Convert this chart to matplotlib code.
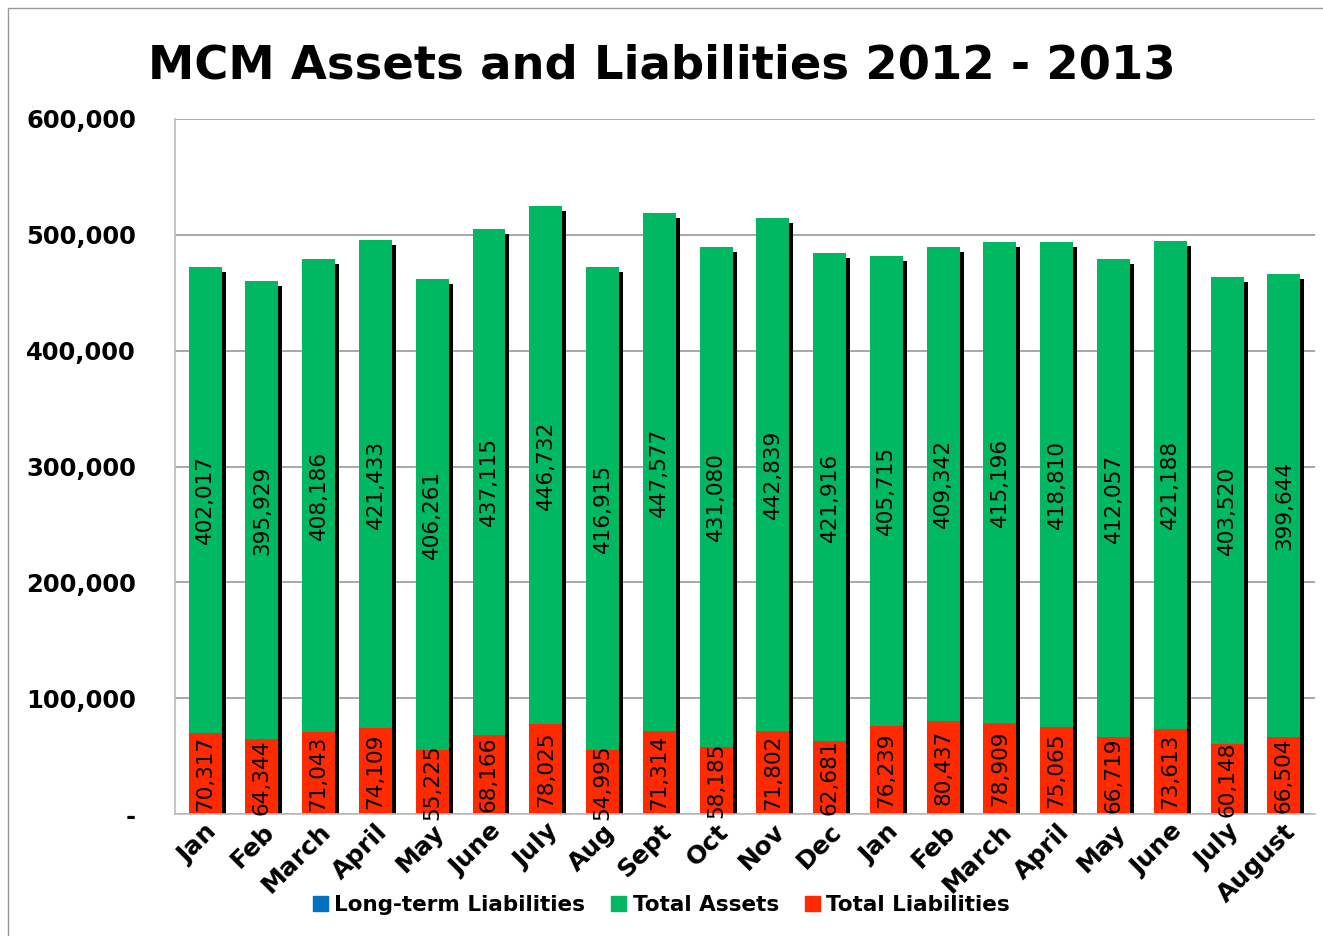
import matplotlib
matplotlib.use("Agg")
import matplotlib.pyplot as plt
import numpy as np
from matplotlib.patches import Patch, Rectangle
from matplotlib.ticker import FuncFormatter

months = ["Jan", "Feb", "March", "April", "May", "June", "July", "Aug", "Sept",
          "Oct", "Nov", "Dec", "Jan", "Feb", "March", "April", "May", "June",
          "July", "August"]
long_term = [0] * 20
liabilities = [70317, 64344, 71043, 74109, 55225, 68166, 78025, 54995, 71314,
               58185, 71802, 62681, 76239, 80437, 78909, 75065, 66719, 73613,
               60148, 66504]
assets = [402017, 395929, 408186, 421433, 406261, 437115, 446732, 416915,
          447577, 431080, 442839, 421916, 405715, 409342, 415196, 418810,
          412057, 421188, 403520, 399644]

GREEN = "#00B762"
RED = "#FF2A00"
BLUE = "#0070C0"

fig = plt.figure(figsize=(13.23, 9.36), dpi=100)
ax = fig.add_axes([0.1323, 0.1303, 0.8617, 0.7426])

x = np.arange(len(months))
w = 0.58
liab = np.array(liabilities)
ass = np.array(assets)
tot = liab + ass + np.array(long_term)

# shadow
ax.bar(x + 0.07, tot - 4300, w, color="black", zorder=1)
ax.bar(x, long_term, w, color=BLUE, zorder=2)
ax.bar(x, liab, w, bottom=long_term, color=RED, zorder=2)
ax.bar(x, ass, w, bottom=liab, color=GREEN, zorder=2)

for i in range(len(x)):
    ax.text(x[i], liab[i] / 2, f"{liab[i]:,}", rotation=90, ha="center",
            va="center", fontsize=15.5, zorder=3)
    ax.text(x[i], liab[i] + ass[i] / 2, f"{ass[i]:,}", rotation=90,
            ha="center", va="center", fontsize=15.5, zorder=3)

ax.set_ylim(0, 600000)
ax.set_xlim(-0.5 - 0.03, len(x) - 0.5 + 0.05)
ax.set_yticks(np.arange(0, 600001, 100000))
ax.yaxis.set_major_formatter(FuncFormatter(lambda v, p: "-" if v == 0 else f"{int(v):,}"))
ax.grid(axis="y", color="#999999", linewidth=1.2, zorder=0)
ax.set_axisbelow(True)
for s in ["top", "right"]:
    ax.spines[s].set_visible(False)
ax.spines["left"].set_color("#bbbbbb")
ax.spines["bottom"].set_color("#bbbbbb")
ax.spines["left"].set_linewidth(1.2)
ax.spines["bottom"].set_linewidth(1.2)
ax.tick_params(axis="y", length=0, pad=28, labelsize=17.5)
ax.tick_params(axis="x", length=0, pad=4, labelsize=18)
for lab in ax.get_yticklabels():
    lab.set_fontweight("heavy")

ax.set_xticks(x)
ax.set_xticklabels(months, rotation=45, ha="right", rotation_mode="anchor",
                   fontweight="heavy")

fig.text(0.5, 0.93, "MCM Assets and Liabilities 2012 - 2013", ha="center",
         va="center", fontsize=33.5, fontweight="heavy")

handles = [Patch(color=BLUE, label="Long-term Liabilities"),
           Patch(color=GREEN, label="Total Assets"),
           Patch(color=RED, label="Total Liabilities")]
leg = fig.legend(handles=handles, loc="center", bbox_to_anchor=(0.5, 0.033),
                 ncol=3, frameon=False, handlelength=0.7,
                 handleheight=0.7, handletextpad=0.3, columnspacing=1.2,
                 prop={"weight": "heavy", "size": 15.5})

fig.patches.append(Rectangle((8 / 1323, -0.01), 1.1, 0.9995 - 8 / 936 + 0.01,
                             transform=fig.transFigure, fill=False,
                             edgecolor="#999999", linewidth=1))

fig.savefig("out.png", dpi=100)
